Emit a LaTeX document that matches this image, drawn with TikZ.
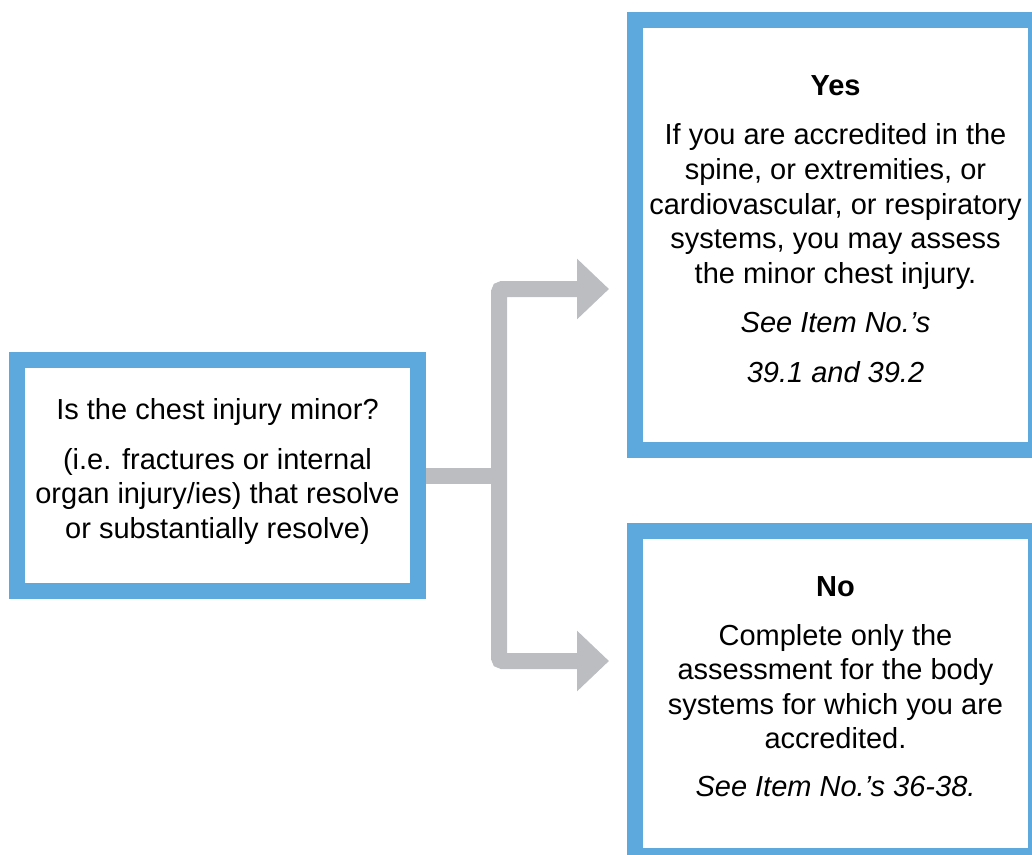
\documentclass[tikz,border=0pt]{standalone}
\usepackage{fontspec}
\setmainfont{Liberation Sans}
\usetikzlibrary{arrows.meta}
\definecolor{boxblue}{RGB}{93,169,221}
\definecolor{linkgray}{RGB}{188,189,192}

\begin{document}
\begin{tikzpicture}[x=0.75pt,y=-0.75pt,
  box/.style={draw=boxblue,line width=12pt,fill=white,align=center,
    minimum width=300.75pt,font=\fontsize{21.75}{25.9}\selectfont},
  link/.style={draw=linkgray,line width=12pt},
  twoheads/.style={{Triangle[length=24pt,width=44pt]}-{Triangle[length=24pt,width=44pt]}}]
  \useasboundingbox (0,0) rectangle (1032,854);
  \clip (0,0) rectangle (1032,854);

  % Draw boxes
  \node[box,minimum height=173.25pt,text depth=11pt] (q) at (217.5,475.5)
    {Is the chest injury minor?\\[11.5pt]
     (i.e. fractures or internal\\ organ injury/ies) that resolve\\ or substantially resolve)};
  \node[box,minimum height=322.5pt,text depth=9pt] (yes) at (835.5,235)
    {\textbf{Yes}\\[11.5pt]
     If you are accredited in the\\ spine, or extremities, or\\ cardiovascular, or respiratory\\
     systems, you may assess\\ the minor chest injury.\\[11.5pt]
     \textit{See Item No.’s}\\[11.5pt] \textit{39.1 and 39.2}};
  \node[box,minimum height=243.75pt,text depth=10.5pt] (no) at (835.5,693.5)
    {\textbf{No}\\[11pt]
     Complete only the\\ assessment for the body\\ systems for which you are\\ accredited.\\[10pt]
     \textit{See Item No.’s 36-38.}};

  % Draw connectors
  \coordinate (split) at (499,477);
  \coordinate (yesend) at (609,289);
  \coordinate (noend) at (609,661);
  \draw[link] (q.east) -- (q.east -| split);
  \draw[link,rounded corners=2.5pt,twoheads] (yesend) -| (split) |- (noend);
\end{tikzpicture}
\end{document}
